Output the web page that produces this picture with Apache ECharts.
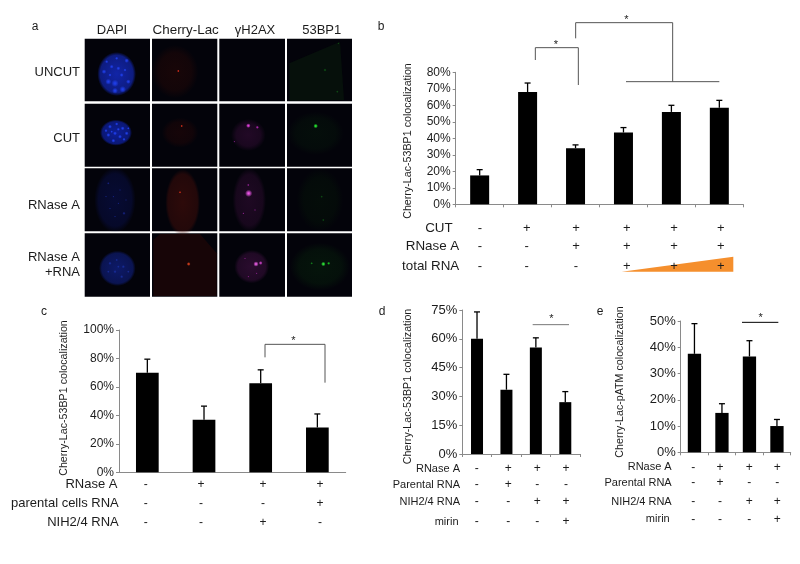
<!DOCTYPE html>
<html><head><meta charset="utf-8">
<style>html,body{margin:0;padding:0;background:#fff}#c{width:800px;height:564px}</style>
<script src="https://cdn.jsdelivr.net/npm/echarts@6/dist/echarts.min.js"></script>
</head><body><div id="c"></div>
<script>
// ---- data ----
const catsB = ['1','2','3','4','5','6'];
const valuesB = [17.5,68,34,43.5,56,58.5];
const topsB = [21,73.5,36,46.5,60,63];
const rowNamesB = ['CUT','RNase A','total RNA'];
const signsB = [['-','+','+','+','+','+'],['-','-','+','+','+','+'],['-','-','-','+','+','+']];

const catsC = ['1','2','3','4'];
const valuesC = [70,37,62.5,31.5];
const topsC = [79.5,46.5,72,41];
const rowNamesC = ['RNase A','parental cells RNA','NIH2/4 RNA'];
const signsC = [['-','+','+','+'],['-','-','-','+'],['-','-','+','-']];

const catsD = ['1','2','3','4'];
const valuesD = [60,33.5,55.5,27];
const topsD = [74,41.5,60.5,32.5];
const rowNamesD = ['RNase A','Parental RNA','NIH2/4 RNA','mirin'];
const signsD = [['-','+','+','+'],['-','+','-','-'],['-','-','+','+'],['-','-','-','+']];

const catsE = ['1','2','3','4'];
const valuesE = [37.5,15,36.5,10];
const topsE = [49,18.5,42.5,12.5];
const rowNamesE = ['RNase A','Parental RNA','NIH2/4 RNA','mirin'];
const signsE = [['-','+','+','+'],['-','+','-','-'],['-','-','+','+'],['-','-','-','+']];

const columnTitles = ['DAPI','Cherry-Lac','γH2AX','53BP1'];
const rowTitles = ['UNCUT','CUT','RNase A','RNase A','+RNA'];

// ---- layout ----
const FONT = '"Liberation Sans", Arial, sans-serif';
const INK = '#1c1c1c', AXIS = '#8a8a8a';
const panels = [
 {cats:catsB,vals:valuesB,tops:topsB,left:455.7,top:72.3,w:287.6,h:132,max:80,step:10,bw:19,fs:12,cap:3,ticks:true},
 {cats:catsC,vals:valuesC,tops:topsC,left:119,top:330,w:226.7,h:142.3,max:100,step:20,bw:22.7,fs:12,cap:3,ticks:false},
 {cats:catsD,vals:valuesD,tops:topsD,left:462.3,top:310,w:117.7,h:144,max:75,step:15,bw:12,fs:13,cap:3,ticks:true},
 {cats:catsE,vals:valuesE,tops:topsE,left:680.7,top:321,w:110,h:131.3,max:50,step:10,bw:13.3,fs:13,cap:3,ticks:true}
];

const grid=[],xAxis=[],yAxis=[],series=[];
panels.forEach((p,i)=>{
  grid.push({left:p.left,top:p.top,width:p.w,height:p.h,containLabel:false});
  xAxis.push({type:'category',gridIndex:i,data:p.cats,axisLabel:{show:false},
    axisLine:{lineStyle:{color:AXIS,width:1}},
    axisTick:{show:p.ticks,length:3,alignWithLabel:false,lineStyle:{color:AXIS}}});
  yAxis.push({type:'value',gridIndex:i,min:0,max:p.max,interval:p.step,splitLine:{show:false},
    axisLine:{show:true,lineStyle:{color:AXIS,width:1}},
    axisTick:{show:true,length:3,lineStyle:{color:AXIS}},
    axisLabel:{formatter:'{value}%',fontFamily:FONT,fontSize:p.fs,color:INK,margin:5}});
  series.push({type:'bar',xAxisIndex:i,yAxisIndex:i,data:p.vals,barWidth:p.bw,
    itemStyle:{color:'#000'},silent:true,animation:false});
  series.push({type:'custom',xAxisIndex:i,yAxisIndex:i,silent:true,animation:false,
    data:p.tops.map((t,k)=>[k,t,p.vals[k]]),
    encode:{x:0,y:1},
    renderItem:(params,api)=>{
      const a=api.coord([api.value(0),api.value(2)]),b=api.coord([api.value(0),api.value(1)]);
      const st={stroke:'#000',lineWidth:1.3};
      return {type:'group',children:[
        {type:'line',shape:{x1:a[0],y1:a[1],x2:b[0],y2:b[1]},style:st},
        {type:'line',shape:{x1:b[0]-p.cap,y1:b[1],x2:b[0]+p.cap,y2:b[1]},style:st}]};
    }});
});

// ---- annotations ----
const g=[];
const T=(text,x,y,o={})=>g.push({type:'text',x,y,z:50,silent:true,rotation:o.rot||0,
  style:{text,fontFamily:FONT,fontSize:o.fs||12,fill:o.fill||INK,
    textAlign:o.align||'center',textVerticalAlign:'middle',textBaseline:'middle'}});
const P=(pts,o={})=>g.push({type:'polyline',z:40,silent:true,shape:{points:pts},
  style:{stroke:o.c||'#555',lineWidth:1,fill:'none'}});
const zr=(ox,oy)=>(a)=>a.map(q=>[ox+q[0]/3,oy+q[1]/3]);
const zb=zr(380,0), zc=zr(0,300), zd=zr(380,300);

// panel letters
T('a',35,27,{fs:12});T('b',381,27,{fs:12});T('c',44,312,{fs:12});T('d',382,312,{fs:12});T('e',600,312,{fs:12});

// y axis titles
T('Cherry-Lac-53BP1 colocalization',407.7,141,{rot:Math.PI/2,fs:10.7});
T('Cherry-Lac-53BP1 colocalization',64.5,398,{rot:Math.PI/2,fs:10.7});
T('Cherry-Lac-53BP1 colocalization',408,386.5,{rot:Math.PI/2,fs:10.7});
T('Cherry-Lac-pATM colocalization',620.5,382,{rot:Math.PI/2,fs:10.7});

// sign tables
function table(names,signs,xs,ys,right,fs,sfs){
  names.forEach((n,r)=>{
    T(n,right[r],ys[r],{fs,align:'right'});
    signs[r].forEach((s,c)=>T(s,xs[c],ys[r],{fs:sfs}));
  });
}
// orange ramp sits under the signs of panel b
g.push({type:'polygon',z:30,silent:true,shape:{points:zb([[725,815],[1060,770],[1060,815]])},style:{fill:'#f58f2d'}});
table(rowNamesB,signsB,[480,526.7,576,626.7,674,720.7],[228,246.7,266],[452.7,459.3,459.3],13.4,13);
table(rowNamesC,signsC,[145.7,201,263,320],[484.3,503.3,522.3],[117.5,118.7,118.7],13,12);
table(rowNamesD,signsD,[476.7,508.3,537.3,566],[469,485,501.7,521.7],[460,460,460,458.5],11,12);
table(rowNamesE,signsE,[693.3,720,749.3,777.3],[467.3,483,501.7,519.3],[671.7,671.7,671.7,669.7],11,12);

// significance brackets
P(zb([[466,180],[466,143],[595,143],[595,255]]));
P(zb([[587,115],[587,68],[878,68],[878,245]]));
P(zb([[738,245],[1018,245]]));
P(zc([[795,172],[795,133],[975,133],[975,248]]));
P(zd([[458,74],[567,74]]),{c:'#777'});
P(zd([[1086,67],[1195,67]]),{c:'#000'});
T('*',380+528/3,45,{fs:11});T('*',380+739/3,19.5,{fs:11});
T('*',880/3,341,{fs:11});T('*',380+514/3,319,{fs:11});T('*',380+1142/3,318,{fs:11});

// ---- micrograph panels ----
const cellX=[[84.7,150],[152,217.3],[219.3,285],[287,352]];
const cellY=[[38.7,101.3],[103.7,166.7],[168.3,231.3],[233.3,296.7]];
cellX.forEach(cx=>cellY.forEach(cy=>g.push({type:'rect',z:1,silent:true,
  shape:{x:cx[0],y:cy[0],width:cx[1]-cx[0],height:cy[1]-cy[0]},style:{fill:'#03030a'}})));
[[0,112],[1,185.7],[2,255],[3,321.7]].forEach(c=>T(columnTitles[c[0]],c[1],30.5,{fs:c[0]==1?13.4:13}));
[72.7,138.7,205,257.7,272.3].forEach((y,i)=>T(rowTitles[i],80,y,{fs:13,align:'right'}));

const rgba=(c,a)=>`rgba(${c[0]},${c[1]},${c[2]},${a})`;
// soft blob, coordinates read in the 3x crop; scaled circle so the gradient follows the ellipse
function blob(x,y,rx,ry,c,a,core){
  g.push({type:'circle',z:3,silent:true,x:x/3,y:y/3,scaleX:1,scaleY:ry/rx,shape:{cx:0,cy:0,r:rx/3},
    style:{fill:{type:'radial',x:.5,y:.5,r:.5,colorStops:[
      {offset:0,color:rgba(c,a)},{offset:core==null?.35:core,color:rgba(c,a*.75)},{offset:1,color:rgba(c,0)}]}}});
}
const spot=(list,c,a)=>list.forEach(s=>blob(s[0],s[1],s[2],s[2],c,a));
const BRIGHT=[35,70,255],MAG=[235,50,235],GRN=[30,235,40];

// DAPI
blob(350,222,58,66,[18,38,175],.95,.85);
spot([[345,250,11],[368,268,10],[325,245,9],[345,272,9],[385,245,7],[380,182,7],[312,215,7],[335,200,6],[355,205,6],[365,225,6],[320,185,5],[350,175,5],[375,210,5],[330,225,5]],BRIGHT,.85);
blob(348,398,48,39,[14,32,160],.95,.85);
spot([[330,380,6],[350,372,5],[368,385,6],[380,400,6],[325,405,6],[345,400,6],[360,410,6],[340,422,6],[318,392,5],[372,418,5],[355,388,5],[335,395,4],[385,385,4]],BRIGHT,.9);
blob(345,600,62,98,[12,22,110],.42,.8);
spot([[325,550,4],[360,570,3],[340,590,3],[372,640,5],[330,625,3],[355,610,3],[318,590,3],[378,600,3],[345,650,3]],[28,45,170],.7);
blob(352,805,55,53,[14,28,115],.9,.85);
spot([[330,790,5],[350,780,4],[370,800,5],[345,815,5],[365,830,5],[325,815,4],[385,815,4],[355,800,4]],[26,50,170],.8);
// Cherry-Lac
blob(525,215,70,80,[50,10,6],.45,.7);
spot([[535,213,4]],[240,50,30],1);
blob(540,398,55,45,[50,8,6],.4,.7);
spot([[545,378,4]],[235,50,25],1);
blob(548,608,52,100,[80,16,10],.55,.85);
spot([[540,577,4]],[235,50,25],.9);
g.push({type:'polygon',z:2,silent:true,shape:{points:[[480,702],[600,702],[650,760],[650,888],[460,888],[460,720]].map(q=>[q[0]/3,q[1]/3])},style:{fill:'rgba(40,8,5,.55)'}});
spot([[566,792,6]],[235,70,30],1);
// gamma-H2AX
blob(745,405,52,48,[80,18,80],.4,.7);
spot([[745,377,7]],[245,70,240],1);spot([[772,382,5]],MAG,.75);spot([[703,425,3]],MAG,.5);
blob(748,600,50,95,[75,18,75],.38,.8);
spot([[746,580,11]],[250,90,245],1);spot([[745,555,4],[730,640,3],[765,630,3]],MAG,.6);
blob(755,800,52,50,[90,22,90],.45,.8);
spot([[768,792,8]],[250,100,245],1);spot([[782,789,6]],[245,80,240],.85);spot([[735,775,3],[745,830,3],[770,820,3]],MAG,.5);
// 53BP1
g.push({type:'polygon',z:2,silent:true,shape:{points:[[868,190],[1020,125],[1032,300],[868,302]].map(q=>[q[0]/3,q[1]/3])},style:{fill:'rgba(10,30,12,.5)'}});
spot([[1012,275,4],[975,210,5],[1015,130,3]],GRN,.3);
blob(947,400,85,65,[8,40,12],.3,.7);
spot([[947,378,7]],[40,255,50],1);
blob(960,600,70,95,[6,28,8],.4,.7);
spot([[970,660,4],[965,590,4]],GRN,.3);
blob(960,800,90,72,[8,45,12],.42,.7);
spot([[970,792,7]],[50,255,60],1);spot([[986,790,5]],GRN,.85);spot([[935,790,4]],GRN,.55);

const chart=echarts.init(document.getElementById('c'),null,{renderer:'canvas'});
chart.setOption({animation:false,backgroundColor:'#fff',grid,xAxis,yAxis,series,graphic:g});
</script></body></html>
